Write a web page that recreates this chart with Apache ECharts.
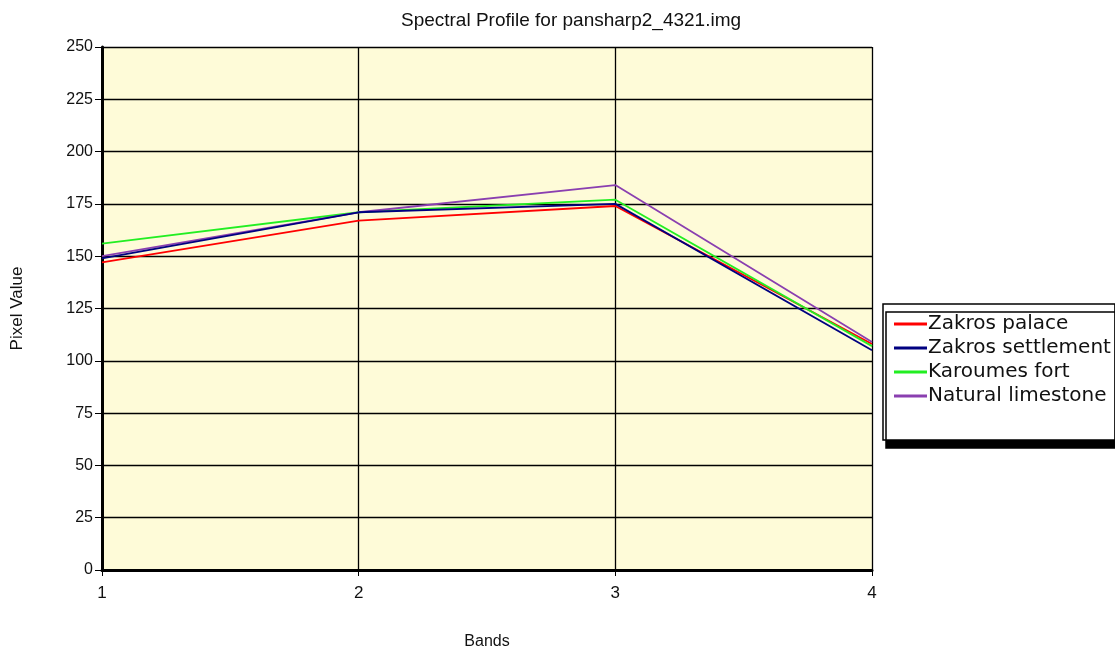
<!DOCTYPE html>
<html><head><meta charset="utf-8">
<script src="https://cdn.jsdelivr.net/npm/echarts@6/dist/echarts.min.js"></script>
<style>html,body{margin:0;padding:0;background:#fff}#c{width:1115px;height:657px}</style>
</head><body><div id="c"></div>
<script>
const bands = [1, 2, 3, 4];
const seriesNames = ['Zakros palace', 'Zakros settlement', 'Karoumes fort', 'Natural limestone'];
const zakrosPalace = [147, 167, 174, 108];
const zakrosSettlement = [149, 171, 175, 105];
const karoumesFort = [156, 171, 177, 107];
const naturalLimestone = [150, 171, 184, 109];
const yTicks = [0, 25, 50, 75, 100, 125, 150, 175, 200, 225, 250];
const colors = ['#ff0000', '#000080', '#22ee22', '#8a3fb0'];
const font = '"Liberation Sans", Arial, sans-serif';
const legendFont = '"DejaVu Sans", "Liberation Sans", sans-serif';

const allValues = [zakrosPalace, zakrosSettlement, karoumesFort, naturalLimestone];
const chart = echarts.init(document.getElementById('c'), null, {renderer: 'canvas'});
chart.setOption({
  animation: false,
  backgroundColor: '#ffffff',
  title: {
    text: 'Spectral Profile for pansharp2_4321.img',
    left: 566, top: 6, textAlign: 'center',
    textStyle: {fontFamily: font, fontSize: 19, fontWeight: 'normal', color: '#111'}
  },
  legend: {
    orient: 'vertical',
    left: 883, top: 304,
    data: seriesNames,
    icon: 'rect', itemWidth: 33, itemHeight: 3, itemGap: 4,
    padding: [10, 4, 34, 11],
    backgroundColor: '#ffffff',
    borderColor: '#000', borderWidth: 1.5,
    shadowColor: '#000', shadowBlur: 0, shadowOffsetX: 3, shadowOffsetY: 8,
    textStyle: {fontFamily: legendFont, fontSize: 20, color: '#111', padding: [0, 0, 0, -4]}
  },
  grid: {
    left: 102, right: 243, top: 47, bottom: 87,
    outerBoundsMode: 'none', containLabel: false,
    show: true, backgroundColor: '#fefbd8', borderWidth: 0
  },
  xAxis: {
    type: 'value', min: 1, max: 4, interval: 1,
    name: 'Bands', nameLocation: 'middle', nameGap: 64,
    nameTextStyle: {fontFamily: font, fontSize: 16, color: '#111'},
    axisLine: {show: true, onZero: false, lineStyle: {color: '#000', width: 3}},
    axisTick: {show: true, length: 6, lineStyle: {color: '#000', width: 1}},
    axisLabel: {fontFamily: font, fontSize: 17, color: '#111', margin: 15},
    splitLine: {show: true, lineStyle: {color: '#000', width: 1.3}}
  },
  yAxis: {
    type: 'value', min: 0, max: 250, interval: 25,
    name: 'Pixel Value', nameLocation: 'middle', nameGap: 76,
    nameTextStyle: {fontFamily: font, fontSize: 17, color: '#111'},
    axisLine: {show: true, lineStyle: {color: '#000', width: 3}},
    axisTick: {show: true, length: 7, lineStyle: {color: '#000', width: 1}},
    axisLabel: {fontFamily: font, fontSize: 16, color: '#111', margin: 9,
      formatter: v => yTicks.includes(v) ? String(v) : ''},
    splitLine: {show: true, lineStyle: {color: '#000', width: 1.3}}
  },
  series: seriesNames.map((n, i) => ({
    name: n, type: 'line',
    data: bands.map((b, j) => [b, allValues[i][j]]),
    showSymbol: false, symbol: 'none',
    lineStyle: {color: colors[i], width: 1.8},
    itemStyle: {color: colors[i]},
    z: 3 + (i === 1 ? 2 : 0)
  }))
});
</script></body></html>
